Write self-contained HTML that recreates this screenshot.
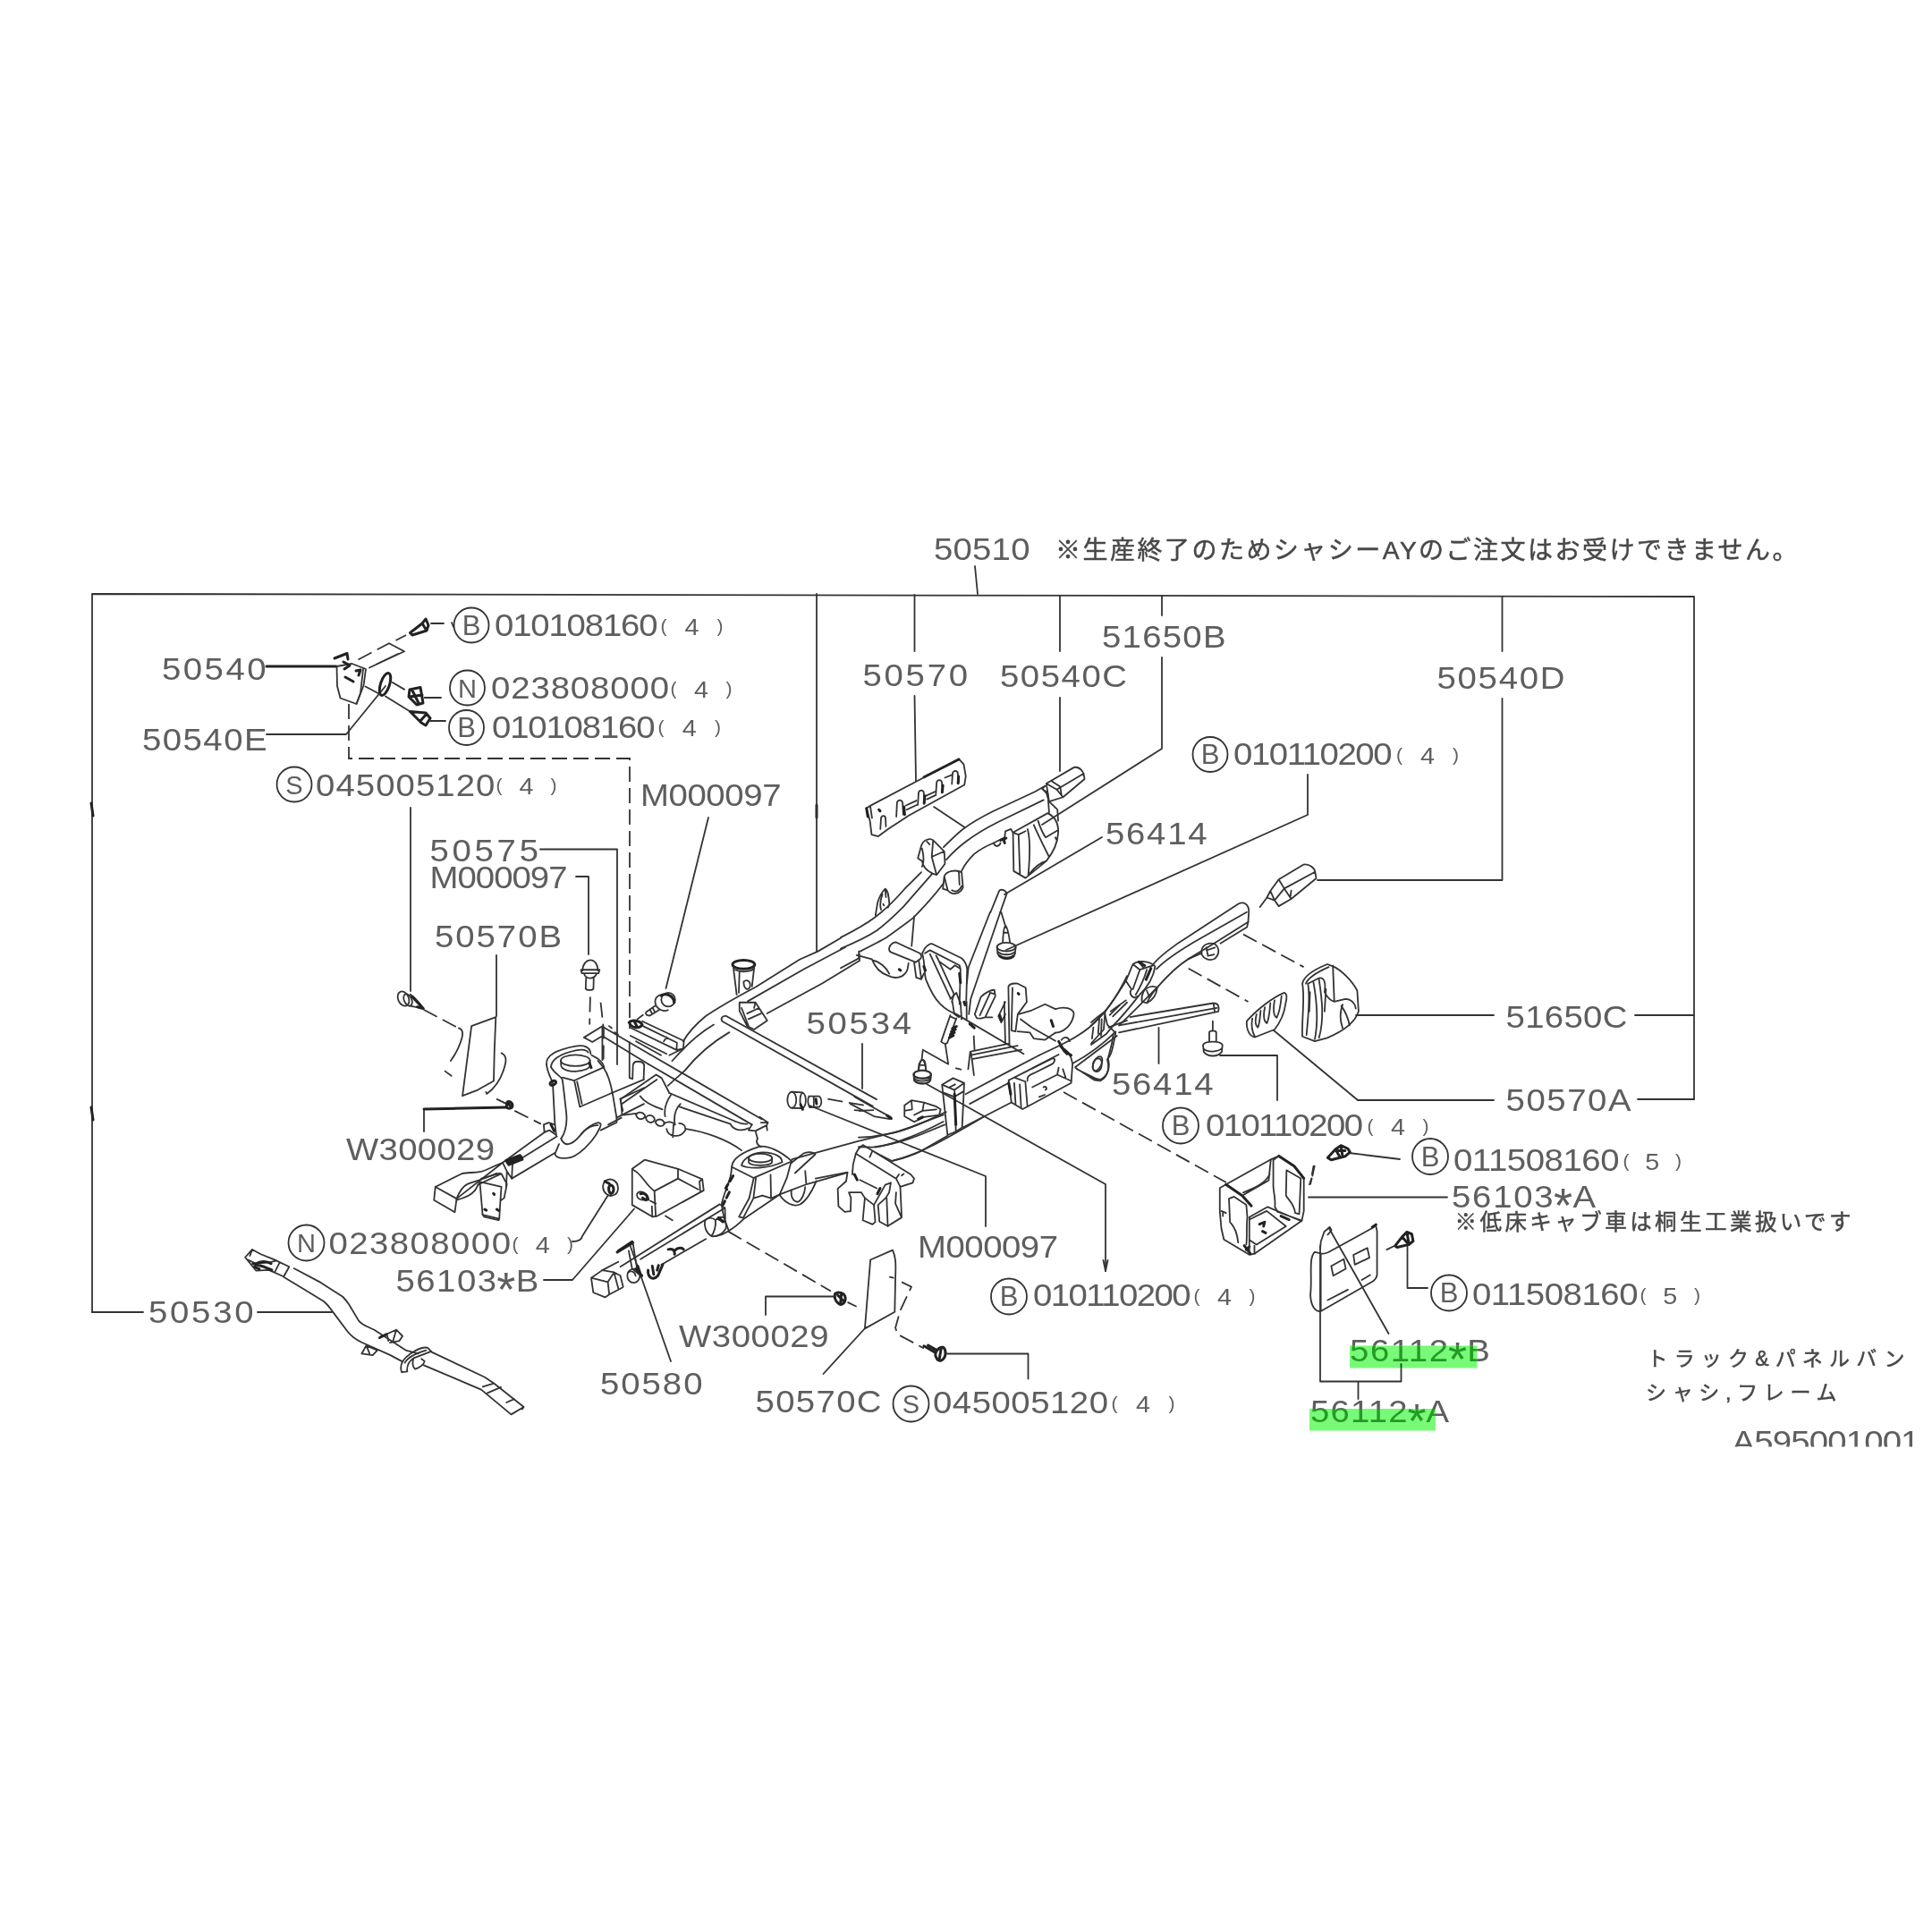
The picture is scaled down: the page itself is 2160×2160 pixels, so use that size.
<!DOCTYPE html>
<html lang="ja"><head><meta charset="utf-8"><title>50510 frame diagram</title>
<style>
html,body{margin:0;padding:0;background:#fff;}
body{width:2160px;height:2160px;overflow:hidden;}
svg{display:block;filter:blur(0.6px);}
.t{font-family:"Liberation Sans","Noto Sans CJK JP",sans-serif;fill:#5e5e5e;}
.j{font-family:"Liberation Sans","Noto Sans CJK JP",sans-serif;fill:#484848;stroke:#484848;stroke-width:0.5;}
.l{vector-effect:non-scaling-stroke;fill:none;stroke:#333;stroke-width:1.8;stroke-linecap:round;stroke-linejoin:round;}
.d{vector-effect:non-scaling-stroke;fill:none;stroke:#333;stroke-width:1.8;stroke-dasharray:17 7;}
.k{vector-effect:non-scaling-stroke;fill:none;stroke:#222;stroke-width:3;stroke-linecap:round;stroke-linejoin:round;}
.w{vector-effect:non-scaling-stroke;fill:#fff;stroke:#4d4d4d;stroke-width:2.2;stroke-linecap:round;stroke-linejoin:round;}
.g{fill:#78fa78;}
.gt .t{fill:#259a25;}
</style></head><body>
<svg width="2160" height="2160" viewBox="0 0 2160 2160">
<rect width="2160" height="2160" fill="#fff"/>
<path class="l" d="M103 1467 V664 L1894 667 V1229"/>
<path class="l" d="M103 1467 H160"/>
<path class="l" d="M288 1467 H371"/>
<path class="l" d="M1828 1135 H1894 M1831 1229 H1894"/>
<path class="k" d="M102 898 L104 912 M102 1238 L104 1252"/>
<path class="k" d="M913 900 L913 914"/>
<text class="t" transform="translate(181.0 759.7) scale(1.08 1)" font-size="35.5" textLength="107.9" lengthAdjust="spacing">50540</text>
<path class="k" d="M298 745 H376"/>
<text class="t" transform="translate(159.0 839.2) scale(1.08 1)" font-size="35.5" textLength="129.2" lengthAdjust="spacing">50540E</text>
<path class="l" d="M298 821 H387 L431 767"/>
<path class="d" d="M390 787 V848 H704 V1150"/>
<circle class="l" cx="329.0" cy="877.0" r="19.5"/>
<text class="t" x="329.0" y="887.5" font-size="29" text-anchor="middle">S</text>
<text class="t" transform="translate(353.0 889.7) scale(1.08 1)" font-size="35.5" textLength="185.6" lengthAdjust="spacing">045005120</text>
<text class="t" x="554.5" y="885.0" font-size="21">(</text>
<text class="t" x="588.5" y="888.5" font-size="25" text-anchor="middle" transform="translate(588.5 0) scale(1.15 1) translate(-588.5 0)">4</text>
<text class="t" x="622.5" y="885.0" font-size="21" text-anchor="end">)</text>
<circle class="l" cx="527.0" cy="699.0" r="19.5"/>
<text class="t" x="527.0" y="709.5" font-size="31" font-family="Liberation Serif, serif" text-anchor="middle">B</text>
<text class="t" transform="translate(553.0 711.2) scale(1.08 1)" font-size="35.5" textLength="169.0" lengthAdjust="spacing">010108160</text>
<text class="t" x="738.5" y="707.0" font-size="21">(</text>
<text class="t" x="773.5" y="710.5" font-size="25" text-anchor="middle" transform="translate(773.5 0) scale(1.15 1) translate(-773.5 0)">4</text>
<text class="t" x="808.5" y="707.0" font-size="21" text-anchor="end">)</text>
<circle class="l" cx="522.5" cy="769.0" r="19.5"/>
<text class="t" x="522.5" y="779.5" font-size="29" text-anchor="middle">N</text>
<text class="t" transform="translate(549.0 781.2) scale(1.08 1)" font-size="35.5" textLength="184.3" lengthAdjust="spacing">023808000</text>
<text class="t" x="749.5" y="777.0" font-size="21">(</text>
<text class="t" x="784.0" y="780.5" font-size="25" text-anchor="middle" transform="translate(784.0 0) scale(1.15 1) translate(-784.0 0)">4</text>
<text class="t" x="818.5" y="777.0" font-size="21" text-anchor="end">)</text>
<circle class="l" cx="521.5" cy="813.5" r="19.5"/>
<text class="t" x="521.5" y="824.0" font-size="31" font-family="Liberation Serif, serif" text-anchor="middle">B</text>
<text class="t" transform="translate(550.0 824.7) scale(1.08 1)" font-size="35.5" textLength="169.0" lengthAdjust="spacing">010108160</text>
<text class="t" x="735.5" y="820.0" font-size="21">(</text>
<text class="t" x="770.8" y="823.5" font-size="25" text-anchor="middle" transform="translate(770.8 0) scale(1.15 1) translate(-770.8 0)">4</text>
<text class="t" x="806.0" y="820.0" font-size="21" text-anchor="end">)</text>
<path class="l" d="M459 903 V1108"/>
<text class="t" transform="translate(480.5 962.7) scale(1.08 1)" font-size="35.5" textLength="112.5" lengthAdjust="spacing">50575</text>
<path class="l" d="M604 949.5 H690 V1190"/>
<text class="t" transform="translate(480.5 993.2) scale(1.08 1)" font-size="35.5" textLength="142.6" lengthAdjust="spacing">M000097</text>
<path class="l" d="M644 980 H658 V1067"/>
<text class="t" transform="translate(486.0 1059.2) scale(1.08 1)" font-size="35.5" textLength="131.5" lengthAdjust="spacing">50570B</text>
<path class="l" d="M555 1068 V1136"/>
<path class="l" d="M913 664 V1064"/>
<text class="t" transform="translate(1044.0 625.7) scale(1.08 1)" font-size="35.5" textLength="99.5" lengthAdjust="spacing">50510</text>
<path class="l" d="M1090 633 L1093 664"/>
<path class="l" d="M1022.5 665 V728 M1022.5 778 L1024 873"/>
<text class="t" transform="translate(964.5 767.2) scale(1.08 1)" font-size="35.5" textLength="108.8" lengthAdjust="spacing">50570</text>
<text class="t" transform="translate(716.0 901.2) scale(1.08 1)" font-size="35.5" textLength="145.8" lengthAdjust="spacing">M000097</text>
<path class="l" d="M792 914 L744.5 1105"/>
<text class="j" transform="translate(1180.0 624.7) scale(1.0 1)" font-size="28" textLength="829.5" lengthAdjust="spacing">※生産終了のためシャシーAYのご注文はお受けできません。</text>
<path class="l" d="M1185 666 V728 M1185 780 V862"/>
<text class="t" transform="translate(1118.0 768.2) scale(1.08 1)" font-size="35.5" textLength="131.5" lengthAdjust="spacing">50540C</text>
<path class="l" d="M1299 666 V688 M1299 735 V837 L1165 922"/>
<text class="t" transform="translate(1232.0 723.7) scale(1.08 1)" font-size="35.5" textLength="128.2" lengthAdjust="spacing">51650B</text>
<text class="t" transform="translate(1236.0 944.2) scale(1.08 1)" font-size="35.5" textLength="105.1" lengthAdjust="spacing">56414</text>
<path class="l" d="M1232 936 L1123 1000"/>
<circle class="l" cx="1353.0" cy="843.5" r="19.5"/>
<text class="t" x="1353.0" y="854.0" font-size="31" font-family="Liberation Serif, serif" text-anchor="middle">B</text>
<text class="t" transform="translate(1379.0 855.2) scale(1.08 1)" font-size="35.5" textLength="164.4" lengthAdjust="spacing">010110200</text>
<text class="t" x="1561.0" y="851.0" font-size="21">(</text>
<text class="t" x="1596.0" y="854.5" font-size="25" text-anchor="middle" transform="translate(1596.0 0) scale(1.15 1) translate(-1596.0 0)">4</text>
<text class="t" x="1631.0" y="851.0" font-size="21" text-anchor="end">)</text>
<path class="l" d="M1462 866 V911 L1125 1062"/>
<path class="l" d="M1679.5 667 V728 M1679.5 781 V984 H1473"/>
<text class="t" transform="translate(1606.5 769.7) scale(1.08 1)" font-size="35.5" textLength="132.4" lengthAdjust="spacing">50540D</text>
<text class="t" transform="translate(1683.5 1148.7) scale(1.08 1)" font-size="35.5" textLength="125.9" lengthAdjust="spacing">51650C</text>
<path class="l" d="M1516 1135 H1670"/>
<text class="t" transform="translate(1683.5 1242.2) scale(1.08 1)" font-size="35.5" textLength="129.6" lengthAdjust="spacing">50570A</text>
<path class="l" d="M1424 1152 L1518 1230 H1670"/>
<circle class="l" cx="1599.0" cy="1293.0" r="20"/>
<text class="t" x="1599.0" y="1303.5" font-size="31" font-family="Liberation Serif, serif" text-anchor="middle">B</text>
<text class="t" transform="translate(1625.0 1309.2) scale(1.08 1)" font-size="35.5" textLength="171.8" lengthAdjust="spacing">011508160</text>
<text class="t" x="1814.5" y="1305.0" font-size="21">(</text>
<text class="t" x="1847.2" y="1308.5" font-size="25" text-anchor="middle" transform="translate(1847.2 0) scale(1.15 1) translate(-1847.2 0)">5</text>
<text class="t" x="1880.0" y="1305.0" font-size="21" text-anchor="end">)</text>
<path class="l" d="M1508 1289 L1565 1296"/>
<text class="t" transform="translate(1623.0 1349.7) scale(1.08 1)" font-size="35.5" textLength="105.2" lengthAdjust="spacing">56103</text>
<text class="t" x="1747.4" y="1366.0" font-size="54" text-anchor="middle">*</text>
<text class="t" transform="translate(1758.6 1349.7) scale(1.08 1)" font-size="35.5" textLength="24.9" lengthAdjust="spacing">A</text>
<path class="l" d="M1463 1338.5 H1618"/>
<text class="j" transform="translate(1626.5 1375.2) scale(1.0 1)" font-size="24.5" textLength="443.0" lengthAdjust="spacing">※低床キャブ車は桐生工業扱いです</text>
<circle class="l" cx="1620.0" cy="1445.5" r="20"/>
<text class="t" x="1620.0" y="1456.0" font-size="31" font-family="Liberation Serif, serif" text-anchor="middle">B</text>
<text class="t" transform="translate(1646.0 1458.7) scale(1.08 1)" font-size="35.5" textLength="171.8" lengthAdjust="spacing">011508160</text>
<text class="t" x="1833.5" y="1454.5" font-size="21">(</text>
<text class="t" x="1867.2" y="1458.0" font-size="25" text-anchor="middle" transform="translate(1867.2 0) scale(1.15 1) translate(-1867.2 0)">5</text>
<text class="t" x="1901.0" y="1454.5" font-size="21" text-anchor="end">)</text>
<path class="l" d="M1573.5 1391 V1440 H1596"/>
<text class="t" transform="translate(1509.0 1521.7) scale(1.08 1)" font-size="35.5" textLength="101.9" lengthAdjust="spacing">56112</text>
<text class="t" x="1629.4" y="1538.0" font-size="54" text-anchor="middle">*</text>
<text class="t" transform="translate(1640.3 1521.7) scale(1.08 1)" font-size="35.5" textLength="24.3" lengthAdjust="spacing">B</text>
<text class="t" transform="translate(1465.0 1590.2) scale(1.08 1)" font-size="35.5" textLength="100.6" lengthAdjust="spacing">56112</text>
<text class="t" x="1583.9" y="1606.5" font-size="54" text-anchor="middle">*</text>
<text class="t" transform="translate(1594.6 1590.2) scale(1.08 1)" font-size="35.5" textLength="24.0" lengthAdjust="spacing">A</text>
<path class="l" d="M1476 1393 V1544.5 H1566.5 V1525 M1518.5 1544.5 V1564"/>
<path class="l" d="M1485.5 1372.5 L1552.5 1491"/>
<text class="j" transform="translate(1841.5 1526.7) scale(1.0 1)" font-size="23" textLength="288.0" lengthAdjust="spacing">トラック&amp;パネルバン</text>
<text class="j" transform="translate(1840.0 1565.2) scale(1.0 1)" font-size="23" textLength="213.5" lengthAdjust="spacing">シャシ,フレーム</text>
<g clip-path="url(#cb)">
<text class="t" transform="translate(1936.5 1624.2) scale(1.08 1)" font-size="35.5" textLength="194.4" lengthAdjust="spacing">A595001001</text>
</g>
<clipPath id="cb"><rect x="1900" y="1500" width="260" height="117.5"/></clipPath>
<text class="t" transform="translate(1243.0 1224.2) scale(1.08 1)" font-size="35.5" textLength="105.1" lengthAdjust="spacing">56414</text>
<path class="l" d="M1295.5 1149 V1189"/>
<circle class="l" cx="1320.0" cy="1258.5" r="20"/>
<text class="t" x="1320.0" y="1269.0" font-size="31" font-family="Liberation Serif, serif" text-anchor="middle">B</text>
<text class="t" transform="translate(1348.0 1270.2) scale(1.08 1)" font-size="35.5" textLength="163.0" lengthAdjust="spacing">010110200</text>
<text class="t" x="1528.5" y="1266.0" font-size="21">(</text>
<text class="t" x="1563.0" y="1269.5" font-size="25" text-anchor="middle" transform="translate(1563.0 0) scale(1.15 1) translate(-1563.0 0)">4</text>
<text class="t" x="1597.5" y="1266.0" font-size="21" text-anchor="end">)</text>
<path class="l" d="M1364 1180 H1428 V1230"/>
<circle class="l" cx="1128.0" cy="1449.5" r="20"/>
<text class="t" x="1128.0" y="1460.0" font-size="31" font-family="Liberation Serif, serif" text-anchor="middle">B</text>
<text class="t" transform="translate(1155.0 1460.2) scale(1.08 1)" font-size="35.5" textLength="163.4" lengthAdjust="spacing">010110200</text>
<text class="t" x="1334.5" y="1456.0" font-size="21">(</text>
<text class="t" x="1369.0" y="1459.5" font-size="25" text-anchor="middle" transform="translate(1369.0 0) scale(1.15 1) translate(-1369.0 0)">4</text>
<text class="t" x="1403.5" y="1456.0" font-size="21" text-anchor="end">)</text>
<path class="l" d="M1236 1421 V1324 L1036 1212"/>
<path class="l" d="M1236 1421 l-2.5 -12 M1236 1421 l2.5 -12"/>
<circle class="l" cx="1018.5" cy="1569.5" r="20"/>
<text class="t" x="1018.5" y="1580.0" font-size="29" text-anchor="middle">S</text>
<text class="t" transform="translate(1043.0 1580.2) scale(1.08 1)" font-size="35.5" textLength="181.5" lengthAdjust="spacing">045005120</text>
<text class="t" x="1242.5" y="1576.0" font-size="21">(</text>
<text class="t" x="1278.0" y="1579.5" font-size="25" text-anchor="middle" transform="translate(1278.0 0) scale(1.15 1) translate(-1278.0 0)">4</text>
<text class="t" x="1313.5" y="1576.0" font-size="21" text-anchor="end">)</text>
<path class="l" d="M1059 1513.5 H1149.5 V1541.5"/>
<text class="t" transform="translate(901.5 1155.7) scale(1.08 1)" font-size="35.5" textLength="108.8" lengthAdjust="spacing">50534</text>
<path class="l" d="M964 1167 V1217"/>
<text class="t" transform="translate(1026.0 1405.7) scale(1.08 1)" font-size="35.5" textLength="145.4" lengthAdjust="spacing">M000097</text>
<path class="l" d="M1102 1371 V1315 L905 1236"/>
<text class="t" transform="translate(759.0 1506.2) scale(1.08 1)" font-size="35.5" textLength="155.1" lengthAdjust="spacing">W300029</text>
<path class="l" d="M856 1470 V1449.5 H933"/>
<text class="t" transform="translate(671.0 1559.2) scale(1.08 1)" font-size="35.5" textLength="106.0" lengthAdjust="spacing">50580</text>
<path class="l" d="M750 1522 L704 1391"/>
<text class="t" transform="translate(844.5 1579.2) scale(1.08 1)" font-size="35.5" textLength="130.6" lengthAdjust="spacing">50570C</text>
<path class="l" d="M920.5 1536 L968 1484"/>
<text class="t" transform="translate(166.0 1479.2) scale(1.08 1)" font-size="35.5" textLength="108.8" lengthAdjust="spacing">50530</text>
<text class="t" transform="translate(387.0 1296.7) scale(1.08 1)" font-size="35.5" textLength="153.7" lengthAdjust="spacing">W300029</text>
<path class="l" d="M474 1265 V1240"/>
<path class="k" d="M474 1240 L566 1238"/>
<circle class="l" cx="342.5" cy="1389.5" r="20"/>
<text class="t" x="342.5" y="1400.0" font-size="29" text-anchor="middle">N</text>
<text class="t" transform="translate(367.5 1401.7) scale(1.08 1)" font-size="35.5" textLength="188.4" lengthAdjust="spacing">023808000</text>
<text class="t" x="572.5" y="1397.5" font-size="21">(</text>
<text class="t" x="606.8" y="1401.0" font-size="25" text-anchor="middle" transform="translate(606.8 0) scale(1.15 1) translate(-606.8 0)">4</text>
<text class="t" x="641.0" y="1397.5" font-size="21" text-anchor="end">)</text>
<path class="l" d="M640 1388 Q650 1388 651 1382 L680 1336"/>
<text class="t" transform="translate(442.5 1443.7) scale(1.08 1)" font-size="35.5" textLength="104.2" lengthAdjust="spacing">56103</text>
<text class="t" x="565.7" y="1460.0" font-size="54" text-anchor="middle">*</text>
<text class="t" transform="translate(576.8 1443.7) scale(1.08 1)" font-size="35.5" textLength="24.7" lengthAdjust="spacing">B</text>
<path class="l" d="M608 1431 H640 L709 1351.5"/>
<path class="d" d="M1189 1221 L1371 1322"/>
<rect class="g" x="1509" y="1504.5" width="142.5" height="25"/>
<rect class="g" x="1464" y="1575" width="141" height="24.5"/>
<clipPath id="cg"><rect x="1509" y="1504.5" width="142.5" height="25"/><rect x="1464" y="1575" width="141" height="24.5"/></clipPath>
<g class="gt" clip-path="url(#cg)">
<text class="t" transform="translate(1509.0 1521.7) scale(1.08 1)" font-size="35.5" textLength="101.9" lengthAdjust="spacing">56112</text>
<text class="t" x="1629.4" y="1538.0" font-size="54" text-anchor="middle">*</text>
<text class="t" transform="translate(1640.3 1521.7) scale(1.08 1)" font-size="35.5" textLength="24.3" lengthAdjust="spacing">B</text>
<text class="t" transform="translate(1465.0 1590.2) scale(1.08 1)" font-size="35.5" textLength="100.6" lengthAdjust="spacing">56112</text>
<text class="t" x="1583.9" y="1606.5" font-size="54" text-anchor="middle">*</text>
<text class="t" transform="translate(1594.6 1590.2) scale(1.08 1)" font-size="35.5" textLength="24.0" lengthAdjust="spacing">A</text>
<path class="l" d="M1566.5 1544.5 V1525"/>
</g>
<!-- 01_bracket50540.svg -->
<g id="p50540">
<path class="l" d="M376.5 745 L377 767 L380.5 780.5 L398.5 787 L406.5 766.5 L409 748 L393.5 742 Z"/>
<path class="l" d="M398.5 787 L403 775 L406 748"/>
<path class="k" d="M374 736 L388 730.5 L389 737 M384 740 L391 744 L385 748 M386 757 L395 762"/>
<path class="k" d="M398 750 L403 749 L401 755" stroke-width="2"/>
<path class="d" d="M400.5 737.5 L435 719.2" stroke-dasharray="12 5"/>
<path class="l" d="M435 719.2 L452 728.3 L413 746.5 M445 731 L421 742.5"/>
<path class="d" d="M442.5 716 L454 710" stroke-dasharray="12 5"/>
<path class="k" d="M458.5 707.5 L472 697 L476 692 L479 699 L477 705 L461 710 Z M472 697 L477 705" stroke-width="2.4"/>
<path class="l" d="M482 697 H496 M505 696 L507 701"/>
<ellipse class="k" cx="430.5" cy="765" rx="5" ry="13" transform="rotate(18 430.5 765)" stroke-width="3.2"/>
<path class="l" d="M408.5 767.5 L424.5 776 M431 778.5 L458.5 795.5"/>
<path class="d" d="M438 762.5 L457.5 774" stroke-dasharray="9 4"/>
<path class="k" d="M458 771 L470 768.5 L473 786 L466 788 L457 779 Z M461 772 L468 786 M458 779 L472 777" stroke-width="2.2"/>
<path class="l" d="M474.5 780 H493"/>
<path class="k" d="M458.5 795.5 L476 797 L481 803 L476 811 L471 808 Z M470 806 L477 798" stroke-width="2.2"/>
<path class="l" d="M481 806 H498"/>
</g>

<!-- 02_tileA.svg -->
<g transform="translate(420,1040) scale(0.15528)">
<!-- screw top-left -->
<ellipse class="l" cx="200" cy="493" rx="38" ry="55" transform="rotate(-25 200 493)"/>
<ellipse class="l" cx="232" cy="502" rx="27" ry="45" transform="rotate(-25 232 502)"/>
<path class="l" d="M250 462 C290 490 320 530 343 563 L245 545"/>
<path class="k" d="M262 478 L343 563 L300 552" stroke-width="2.4"/>
<path class="d" d="M345 572 L610 712" stroke-dasharray="14 6"/>
<path class="l" d="M598 705 C630 715 630 745 620 780 C600 850 570 900 540 940 M500 1015 L545 1048"/>
<!-- panel 50570B -->
<path class="l" d="M690 690 L865 625 L855 870 L850 1085 L735 1150 L625 1192 Z"/>
<path class="l" d="M905 885 C950 905 940 950 920 1010 C900 1070 870 1130 800 1178 L795 1165"/>
<path class="d" d="M870 1215 L945 1252 M1000 1300 L1190 1395" stroke-dasharray="12 6"/>
<path class="k" d="M945 1240 C960 1225 985 1240 985 1262 C985 1285 955 1290 942 1272 Z M955 1250 L975 1270" stroke-width="2.2"/>
<!-- bolt M000097 -->
<path class="l" d="M1490 290 C1490 240 1520 215 1545 215 C1580 215 1600 250 1600 290 M1478 285 L1612 285 L1605 310 L1485 310 Z M1500 310 C1505 335 1520 345 1545 345 C1575 345 1585 330 1592 310 M1515 345 L1512 420 C1520 435 1560 435 1568 420 L1570 345"/>
<path class="d" d="M1545 480 L1540 680 M1620 520 L1642 720 L1640 930" stroke-dasharray="13 6"/>
<!-- cross bar left end -->
<path class="l" d="M1500 772 L1630 692 L1974 894 M1500 772 L1560 805 L1632 762 L1964 964 M1632 692 L1632 762 M1632 762 L1632 935"/>
<path class="l" d="M1680 690 L1700 705 M1720 735 L1745 750" />
<!-- strut tower -->
<path class="l" d="M1230 965 C1225 900 1300 860 1440 835 C1500 825 1545 840 1548 890"/>
<path class="l" d="M1262 985 C1265 930 1330 890 1440 865 C1490 855 1520 860 1530 880"/>
<ellipse class="l" cx="1438" cy="938" rx="105" ry="40"/>
<path class="l" d="M1333 938 L1335 975 C1340 1005 1400 1020 1450 1015 C1500 1012 1540 995 1545 975 L1543 938"/>
<path class="k" d="M1540 960 L1552 990" stroke-width="4"/>
<path class="l" d="M1230 965 C1235 1020 1260 1060 1275 1100 L1290 1390 L1300 1475"/>
<ellipse class="k" cx="1277" cy="1100" rx="22" ry="14" transform="rotate(-30 1277 1100)" stroke-width="2.2"/>
<path class="l" d="M1262 985 C1290 1040 1340 1050 1345 1080 C1355 1150 1365 1250 1372 1310 C1380 1380 1370 1450 1335 1500"/>
<path class="l" d="M1345 1060 L1430 1082 L1640 988 L1600 940 M1430 1082 L1470 1272 L1700 1172 M1450 1090 L1485 1250"/>
<path class="l" d="M1640 988 C1690 1060 1700 1150 1710 1200 L1735 1350"/>
<path class="l" d="M1555 900 L1600 925 C1620 940 1640 960 1645 990"/>
<!-- lower arch -->
<path class="l" d="M1335 1500 C1360 1570 1420 1540 1470 1480 C1510 1430 1560 1395 1600 1385 C1625 1385 1625 1405 1610 1430 C1570 1520 1450 1640 1380 1640 C1340 1645 1300 1640 1290 1610"/>
<path class="l" d="M1480 1465 C1520 1420 1570 1400 1600 1405"/>
<!-- small block and rail -->
<path class="l" d="M1210 1400 L1215 1455 L1250 1440 M1210 1400 L1245 1385 L1290 1400 M1250 1440 L1300 1475"/>
<path class="k" d="M1262 1400 L1285 1445" stroke-width="3.5"/>
<path class="l" d="M1215 1455 L915 1673 M1305 1485 L985 1683 M1320 1540 L1295 1600 L980 1788 M1290 1610 L1295 1600"/>
<!-- right of tower: rail going up right -->
<path class="l" d="M1735 1350 L1932 1250 M1700 1172 L1932 1075 M1760 1215 L1932 1135 M1760 1215 L1780 1300 M1620 1440 L1735 1385 L1735 1350"/>
</g>

<!-- 03_tileB.svg -->
<g transform="translate(420,1240) scale(0.15528)">
<!-- horn of left rail -->
<path class="l" d="M915 385 C850 410 800 440 760 450 C700 460 660 455 620 465 L430 560 L420 655 L570 742 L583 645 Z"/>
<path class="l" d="M430 560 L583 645 C600 600 620 560 660 540 C720 515 800 500 870 462"/>
<path class="l" d="M583 655 C640 640 690 620 715 585"/>
<path class="l" d="M915 385 L945 448 L940 560 M985 398 L980 500 L945 448"/>
<!-- bracket -->
<path class="l" d="M715 585 L750 525 L770 760 L890 790 L898 660 M735 545 L905 465 L945 540 L925 640 L898 660 L905 560 L760 525 M760 500 L895 462"/>
<path class="l" d="M770 760 L780 775 L885 800 L890 790"/>
<path class="k" d="M848 608 l6 6 M785 722 l12 6 M872 722 l12 8" stroke-width="3"/>
<path class="k" d="M938 372 L1040 333 M948 386 L1050 347 M958 400 L1056 362 M945 379 L1045 340 M953 393 L1053 355" stroke-width="2"/>
<!-- N nut -->
<path class="l" d="M1655 515 C1700 490 1745 520 1745 570 C1745 620 1690 640 1660 610 C1630 585 1630 540 1655 515 Z"/>
<path class="k" d="M1690 545 C1720 550 1720 600 1695 610 C1675 600 1672 560 1690 545 M1650 520 L1680 535" stroke-width="2"/>
<!-- rail front-right end (right rail) -->
</g>

<!-- 04_tileC.svg -->
<g transform="translate(640,1240) scale(0.15528)">
<!-- N leader handled in labels. mount 56103*B -->
<path class="l" d="M430 430 L520 365 L760 430 L935 505 L945 585 L610 770 L575 775 L430 690 Z"/>
<path class="l" d="M438 438 C500 465 520 540 590 590 L600 772 M590 590 L760 500 L760 432 M760 500 L905 578 M935 505 L915 520 L920 590"/>
<path class="l" d="M560 660 L600 680 M575 775 L572 700"/>
<ellipse class="l" cx="500" cy="625" rx="38" ry="28" transform="rotate(25 500 625)"/>
<path class="k" d="M490 610 C520 600 545 625 545 650 M505 640 L530 655" stroke-width="2"/>
<path class="l" d="M670 770 L720 800"/>
<!-- right rail front end -->
<path class="l" d="M135 1215 L215 1160 L300 1175 L255 1245 Z M135 1215 L150 1320 L235 1355 L265 1335 L255 1245 M265 1335 L360 1285 M300 1175 L345 1200 M300 1180 L330 1290 M345 1200 L365 1280"/>
<ellipse class="l" cx="440" cy="1200" rx="45" ry="50"/>
<path class="l" d="M400 1175 C420 1160 450 1170 455 1200"/>
<path class="l" d="M215 1160 L330 1100 M345 1135 L1060 685 M490 1080 L1098 712 M640 1120 L960 935 M1060 685 L1098 712 L1100 790"/>
<!-- 50580 bracket -->
<path class="k" d="M322 1030 L435 962 M330 1020 L430 955" stroke-width="2"/>
<path class="l" d="M435 962 L470 1180 M405 1020 L430 1150 L480 1190"/>
<path class="k" d="M470 1130 L490 1190 M455 1150 L500 1200" stroke-width="3"/>
<path class="k" d="M545 1160 C540 1210 580 1240 615 1200 L650 1120 M575 1130 L585 1190 M620 1125 L610 1160" stroke-width="2.2"/>
<path class="k" d="M690 1010 C720 1000 740 1020 735 1045 M740 1015 C760 995 790 995 800 1010" stroke-width="2"/>
<!-- knob -->
<path class="l" d="M955 800 C945 840 960 890 1000 915 C1040 920 1080 900 1105 860 C1110 830 1100 800 1090 780 M955 800 C980 780 1010 780 1030 800 C1035 840 1020 890 1000 915 M1030 800 C1050 780 1075 775 1090 780"/>
<path class="k" d="M1050 790 L1090 810" stroke-width="3"/>
<!-- dashed to W300029 -->
</g>

<!-- 05_tileD.svg -->
<g transform="translate(800,1240) scale(0.15528)">
<!-- rail to the right -->
<path class="l" d="M550 362 L1020 232 L1240 180 C1350 160 1450 120 1660 20 M720 500 L950 455"/>
<path class="l" d="M1150 275 C1300 250 1450 190 1640 90 M1280 370 C1450 330 1600 250 1932 55"/>
<!-- hook bracket -->
<path class="l" d="M1030 285 L1060 258 L1130 300 L1405 470 L1430 500 L1420 530 L1330 560 L1300 500 L1010 320 Z M1320 470 L1300 500 M1130 300 L1110 345 M1340 478 l15 -12"/>
<path class="l" d="M1010 320 L990 400 L985 470 M950 458 L940 520 L880 572 L885 700 L930 740 L972 735 L975 640 L960 600 L1050 600 L1075 640 L1060 800 L1130 830 L1150 812 L1140 690 L1222 545 L1262 530 L1250 600 L1225 640 L1170 690 L1180 810 L1240 842 L1340 780 L1330 560"/>
<path class="l" d="M1075 640 L1140 690 M1240 842 L1232 640 M1300 600 L1295 680 L1335 770 M1040 510 L1160 570"/>
<path class="k" d="M1000 470 L1020 510 M1185 570 L1165 610" stroke-width="4"/>
<!-- dashed and nut -->
<path class="d" d="M90 880 L830 1310 M950 1390 L1015 1422" stroke-dasharray="13 6"/>
<path class="k" d="M860 1330 C880 1310 930 1320 935 1360 C935 1400 900 1420 880 1395 C860 1375 855 1350 860 1330 M880 1340 L915 1375 M905 1335 L900 1395" stroke-width="2.2"/>
<!-- panel 50570C -->
<path class="l" d="M1115 1085 L1275 1015 C1295 1060 1300 1100 1295 1210 L1290 1460 L1075 1580 Z M1255 1208 L1280 1215"/>
<path class="d" d="M1340 1245 L1410 1280 L1330 1450 L1295 1575 L1312 1622 L1500 1722" stroke-dasharray="12 6"/>
<!-- screw -->
<path class="k" d="M1500 1705 L1585 1755 M1530 1700 L1590 1735 M1590 1790 C1570 1760 1600 1710 1640 1715 C1665 1740 1660 1790 1625 1810 C1610 1815 1595 1805 1590 1790 M1625 1720 L1610 1805" stroke-width="2.2"/>
</g>

<!-- 06_tileE.svg -->
<g transform="translate(680,1040) scale(0.15528)">
<!-- cross bar 50575 continuing -->
<path class="l" d="M300 894 L1105 1360 M290 964 L1035 1400"/>
<path class="l" d="M1035 1400 L1010 1440 L1060 1445 L1140 1405 L1150 1385 L1100 1385 M1090 1345 L1150 1385 M1060 1445 L1075 1500 M1140 1405 L1145 1440"/>
<!-- bolt M000097 (center) -->
<circle class="l" cx="432" cy="500" r="50"/>
<path class="l" d="M395 465 C360 460 330 490 340 530 C350 570 400 590 430 575 M345 540 L280 585 M365 575 L300 615 M280 585 C265 590 265 615 300 615 M300 570 l15 30 M320 558 l15 30"/>
<path class="k" d="M380 470 C420 450 470 470 475 520" stroke-width="2.6"/>
<path class="l" d="M250 610 L210 640"/>
<path class="k" d="M150 665 C170 640 230 650 245 680 C230 710 170 710 150 665 M190 660 L210 700" stroke-width="2.2"/>
<!-- plate -->
<path class="l" d="M245 655 L545 797 L540 852 L492 862 L160 702 M160 760 L420 890 M200 800 L380 900 M492 862 L495 810 L250 690 M540 852 L440 900 M420 770 L400 800"/>
<!-- left rail -->
<path class="l" d="M540 800 C580 730 640 670 700 620 C780 565 900 495 1062 409 L1378 211 L1510 152 L1674 56"/>
<path class="l" d="M460 942 C540 850 640 750 760 680 M550 1012 C640 900 760 800 872 735 M430 1120 C470 1080 520 1040 550 1012"/>
<path class="l" d="M1005 511 L1415 277 L1707 122 M1144 599 L1546 380 L1810 219 L1808 170"/>
<!-- cylinder on rail -->
<ellipse class="k" cx="975" cy="247" rx="80" ry="32" stroke-width="2.6"/>
<path class="l" d="M900 260 L925 465 M1052 260 L1035 405 M915 285 C950 305 1020 300 1045 280 M945 300 L940 450 M975 370 C1000 350 1030 370 1020 410 C1005 440 975 420 975 370"/>
<!-- clip bracket -->
<path class="l" d="M945 520 L1060 520 L1145 650 L1050 715 L1000 690 L945 580 Z M960 560 L1010 690 M1000 600 L1085 560 M1010 640 L1100 600 M1060 520 L1050 560"/>
<!-- cross bar 50534 -->
<path class="l" d="M850 618 L1932 1218 M820 655 L1905 1268 M850 618 C820 615 808 635 820 655"/>
<!-- cylinder bolt -->
<ellipse class="l" cx="1322" cy="1222" rx="32" ry="58"/>
<path class="l" d="M1322 1164 L1400 1168 M1322 1280 L1400 1282 M1400 1168 C1430 1190 1430 1260 1400 1282 C1375 1260 1375 1190 1400 1168 M1445 1195 L1520 1195 C1540 1215 1540 1255 1520 1272 L1450 1275 C1435 1250 1435 1215 1445 1195 M1480 1200 L1480 1270"/>
<path class="k" d="M1385 1255 L1400 1290 M1495 1215 L1500 1250" stroke-width="3"/>
<path class="d" d="M1580 1215 L1850 1262 M1770 1295 L1840 1300" stroke-dasharray="14 7"/>
<!-- left rail segment from tower + arm -->
<path class="l" d="M90 1215 L345 1040 L385 1065 L440 1172 M100 1250 L350 1075 M90 1215 L100 1330 M0 1400 L95 1350 M175 1070 L178 975 C180 950 195 945 212 945 C240 945 258 955 259 975 L255 1070 M153 806 L153 1063 L175 1070"/>
<path class="l" d="M440 1172 L905 1372 C930 1380 960 1400 1000 1395 M510 1270 L880 1395 C900 1440 960 1450 1010 1425 M230 1195 C260 1240 330 1270 390 1290"/>
<path class="l" d="M455 1180 C420 1230 400 1290 410 1340 M520 1250 C480 1290 470 1340 480 1400 M560 1430 C700 1450 860 1510 960 1585"/>
<path class="l" d="M200 1330 C215 1300 260 1310 265 1340 C250 1370 210 1365 200 1330 M270 1350 C290 1320 330 1330 335 1365 C320 1395 280 1390 270 1350 M340 1380 C360 1350 400 1360 405 1395 C390 1420 350 1415 340 1380 M400 1395 C420 1370 470 1380 480 1400 M420 1430 C430 1490 520 1500 555 1440 C560 1410 540 1390 510 1390 M470 1400 L465 1490"/>
<path class="l" d="M110 1330 L200 1320 M1075 1500 C1060 1530 1080 1550 1100 1560"/>
</g>

<!-- 07_tileF.svg -->
<g transform="translate(960,1040) scale(0.15528)">
<!-- 50534 bar end -->
<path class="l" d="M-30 1200 L120 1285 L230 1345 M-60 1250 L110 1340 L225 1360"/>
<path class="k" d="M205 1335 L235 1355" stroke-width="3.5"/>
<path class="d" d="M0 1300 L130 1295" stroke-dasharray="10 6"/>
<!-- small clip on rail -->
<path class="l" d="M330 1260 L380 1225 L470 1240 L560 1270 L590 1290 L580 1330 L470 1345 L400 1380 L330 1340 Z M380 1225 L385 1290 L330 1300 M470 1240 L460 1300 L400 1330 M460 1300 L560 1290"/>
<path class="k" d="M430 1360 L460 1345" stroke-width="3"/>
<!-- bolt B (lower-left of bracket) -->
<path class="l" d="M440 960 C445 925 475 925 480 960 L485 1010 M400 1030 C420 1000 500 1000 520 1035 L515 1080 C490 1110 430 1110 400 1080 Z M430 1010 L435 960 M400 1055 C430 1075 490 1075 518 1058"/>
<!-- post -->
<path class="l" d="M600 1112 L680 1065 L760 1100 L690 1150 Z M600 1112 L640 1475 M690 1150 L700 1450 M760 1100 L745 1420 L700 1450 M640 1475 L700 1450 M655 1130 l40 -20 M612 1170 L690 1200 L755 1160"/>
<path class="k" d="M690 1180 L700 1400" stroke-width="2.6"/>
<!-- right rail left of post -->
<path class="l" d="M0 1492 C150 1490 300 1450 420 1400 L610 1330 M100 1562 C250 1545 350 1510 450 1470 L620 1400 M240 1662 C330 1640 400 1615 450 1590 L640 1480 M0 1560 L100 1562 M120 1600 L240 1662"/>
<!-- right of post -->
<path class="l" d="M770 1180 L1090 1010 L1300 900 M800 1250 L1080 1100 M750 1420 L1100 1240"/>
<!-- box on rail -->
<path class="l" d="M1080 1080 L1100 1240 L1180 1288 L1215 1270 L1530 1100 L1540 960 C1530 900 1500 860 1470 850 M1080 1080 L1200 1020 L1440 895 M1120 1100 L1130 1250 M1160 1110 L1170 1280 M1200 1090 L1215 1270 M1200 1090 L1120 1060"/>
<path class="l" d="M1215 1085 C1210 1060 1230 1040 1260 1030 L1390 965 C1410 955 1420 930 1400 920 L1250 995 M1250 1130 L1430 1040 L1440 990 M1430 1040 L1530 1085 M1470 1000 L1490 1060 M1300 1200 l40 -15 M1330 1130 C1350 1120 1360 1140 1345 1150"/>
<path class="k" d="M1440 800 L1480 870 L1530 900 M1450 830 L1500 890 M1080 1100 L1095 1180" stroke-width="3"/>
<!-- rail continuing up-right -->
<path class="l" d="M1300 900 C1450 830 1560 780 1660 700 C1780 600 1860 480 1932 330 M1540 960 C1650 900 1760 820 1850 730 M1560 985 L1860 760 M1460 790 C1480 760 1510 770 1520 800"/>
<!-- plate with hole -->
<path class="l" d="M1670 690 L1770 590 L1790 680 L1850 740 C1830 850 1820 900 1790 930 C1810 1000 1790 1060 1740 1085 L1700 1080 L1560 990 M1690 700 L1680 780 M1750 640 L1745 760 M1570 1000 L1720 1075"/>
<ellipse class="l" cx="1720" cy="960" rx="28" ry="55" transform="rotate(25 1720 960)"/>
<path class="l" d="M1800 700 L1932 650 M1830 620 L1932 520"/>
<path class="l" d="M1417 568 C1480 548 1540 560 1550 600 C1540 680 1480 735 1417 738"/>
</g>

<!-- 08_tileG.svg -->
<g transform="translate(1220,960) scale(0.15528)">
<!-- right rail rear end -->
<path class="l" d="M440 770 C470 720 600 620 700 560 L1060 325 C1100 305 1135 330 1135 380 L1130 455 L900 600 L700 722 C640 760 560 830 480 922"/>
<path class="l" d="M470 795 C520 740 640 660 740 600 L1120 385 M1130 455 L1122 492 L930 610"/>
<!-- nut on rail -->
<path class="l" d="M795 660 C800 620 850 600 890 615 C925 640 925 690 890 720 C850 740 810 720 795 690 Z M830 640 L840 700 M830 660 L890 640 M840 700 L885 690"/>
<path class="l" d="M700 722 L795 680"/>
<!-- collar bracket -->
<path class="l" d="M250 880 L300 760 C340 730 420 735 460 775 C450 850 400 930 340 990 L310 1000 C280 990 275 960 290 940 L250 880 M300 760 L350 800 L440 770 M350 800 L300 940 M340 740 L380 790 M400 800 C380 870 350 930 320 980"/>
<path class="k" d="M345 745 L385 770 M430 790 L395 870" stroke-width="2.6"/>
<path class="l" d="M375 960 C400 920 450 910 475 930 C470 980 440 1020 400 1040 L365 1030 C360 1000 365 980 375 960 M400 950 L420 1000 M400 1040 C420 1000 445 960 475 930"/>
<!-- rail lower section to the left -->
<path class="l" d="M250 880 C200 960 150 1040 100 1100 M340 990 C300 1040 240 1120 160 1200 M140 1100 L250 1020 M480 922 C400 1000 330 1080 200 1200"/>
<!-- plates at left edge -->
<path class="l" d="M100 1100 L90 1230 L0 1330 M60 1130 L50 1260 M0 1180 C30 1150 60 1130 100 1100 M160 1200 L110 1260 L0 1340"/>
<path class="l" d="M160 1260 C150 1350 130 1400 120 1440 C140 1500 120 1560 70 1590 L0 1580 M40 1440 C70 1430 85 1460 70 1510 C50 1545 15 1540 10 1500 C10 1470 20 1450 40 1440"/>
<!-- dashed -->
<path class="d" d="M1095 545 L1530 780 M700 790 L1130 1030 M130 1130 L240 1020" stroke-dasharray="14 7"/>
<!-- 50540D part -->
<path class="l" d="M1290 232 L1350 150 L1530 42 C1570 35 1610 70 1612 95 L1620 142 L1440 290 L1350 342 L1320 300 L1290 232 M1350 150 L1390 215 L1320 300 M1390 215 L1440 290 M1390 215 L1612 95 M1290 232 L1265 280 L1215 348 M1265 280 L1320 300 M1440 230 L1435 270"/>
<!-- 51650C part -->
<path class="l" d="M1520 900 C1530 850 1600 800 1700 760 L1740 775 C1800 800 1880 880 1915 950 L1925 1100 C1900 1180 1820 1240 1700 1290 L1610 1315 L1520 1280 C1515 1150 1540 1000 1520 900 Z"/>
<path class="l" d="M1545 900 C1560 860 1620 820 1710 780 M1560 900 L1640 860 C1680 850 1690 900 1680 960 C1700 1000 1720 1020 1750 1030 L1830 1010 C1870 1010 1900 1040 1905 1080 M1560 900 C1580 1000 1560 1150 1550 1270 M1600 890 C1620 1000 1640 1150 1610 1300 M1640 870 C1660 1000 1680 1150 1640 1290 M1575 960 L1570 1100 M1690 940 L1680 1100 M1800 1060 C1830 1100 1850 1150 1860 1200 M1810 1050 C1790 1100 1790 1160 1810 1220 M1750 1030 L1740 770"/>
<!-- vent 50570A -->
<path class="l" d="M1120 1170 C1180 1100 1300 1000 1390 965 C1410 970 1410 1000 1400 1040 C1390 1120 1360 1180 1320 1230 L1180 1285 C1140 1280 1115 1230 1120 1170 Z M1180 1285 C1160 1250 1150 1200 1160 1150"/>
<path class="l" d="M1190 1120 C1180 1160 1180 1200 1200 1215 C1215 1180 1215 1130 1220 1095 M1250 1070 C1240 1120 1240 1170 1265 1185 C1285 1140 1285 1080 1290 1040 M1320 1020 C1310 1080 1310 1130 1335 1145 C1360 1100 1365 1040 1370 990"/>
<!-- rod 56414 lower -->
<path class="l" d="M280 1140 L880 1040 C910 1040 925 1060 915 1100 L200 1252 M200 1200 L905 1075 M880 1040 L890 1105"/>
<!-- bolt -->
<path class="l" d="M875 1170 L875 1240 M850 1250 C855 1235 895 1235 900 1250 L900 1320 M850 1250 L850 1320 M805 1340 C820 1310 930 1310 945 1340 L940 1390 C910 1430 840 1430 810 1390 Z M810 1370 C840 1395 910 1395 942 1365"/>
</g>

<!-- 09_tileH.svg -->
<g transform="translate(940,840) scale(0.15528)">
<!-- 50570 plate -->
<path class="l" d="M185 410 L212 392 L850 55 L885 92 L900 180 L890 242 L490 462 L340 560 L270 612 L222 600 L210 500 Z M212 392 L225 480"/>
<path class="k" d="M185 410 L195 470 M600 185 L850 58" stroke-width="2.6"/>
<path class="l" d="M285 560 L290 480 C295 460 320 460 322 480 L325 540 M400 470 L405 370 C410 345 440 345 445 370 L450 455 M555 385 L560 300 C565 275 595 275 598 300 L602 370 M685 305 L690 225 C695 200 725 200 728 225 L732 290 M800 235 L805 160 C810 135 840 135 843 160 L848 225"/>
<path class="k" d="M455 400 L460 455 M605 320 L600 375 M735 245 L730 295 M848 180 L845 230 M275 420 l8 10" stroke-width="2.4"/>
<path class="l" d="M470 390 L545 355 M475 420 L550 385 M615 320 L680 290 M620 345 L685 315 M750 190 L800 170"/>
<path class="l" d="M670 400 L890 545" stroke-width="1.4"/>
<!-- left rail upper section -->
<path class="l" d="M0 1340 C100 1290 180 1245 240 1200 C320 1140 400 1060 460 990 L580 870 M740 690 C800 630 840 590 880 560 C960 500 1040 460 1100 430 L1400 290 L1470 250"/>
<path class="l" d="M0 1420 C120 1370 200 1330 260 1290 C340 1230 400 1170 450 1120 L660 880 M760 780 C820 710 860 680 900 650 C980 590 1060 545 1130 510 L1460 350"/>
<path class="l" d="M140 1440 C220 1400 280 1370 330 1340 C400 1290 470 1240 520 1200 C600 1120 680 1030 740 950 M870 860 C900 800 930 770 960 740 C1010 700 1050 680 1100 660 L1180 620 M0 1560 L130 1490 L130 1440 L140 1440"/>
<!-- collar -->
<path class="l" d="M580 680 C590 640 640 620 665 640 L745 720 L750 810 L690 890 L660 880 C620 860 590 830 585 790 L555 770 L580 680 M665 640 L655 760 L690 890 M655 760 L745 720 M585 700 C600 760 600 800 585 830 M620 650 l20 20"/>
<!-- cylinder -->
<path class="l" d="M745 900 C760 860 830 850 870 870 L880 980 C860 1030 800 1040 770 1000 L745 900 M745 900 L735 990 L770 1000 M800 1000 C830 1020 860 1000 870 970 M850 870 L855 960"/>
<!-- small hook -->
<path class="l" d="M250 1180 L265 1090 C280 1040 300 1010 320 990 C340 1000 345 1040 350 1100 L340 1125 M300 1030 C285 1070 280 1110 290 1140 M320 990 L325 1050 M305 1100 l6 10"/>
<!-- 50540C end part -->
<path class="l" d="M1480 232 L1680 115 C1720 110 1750 140 1755 200 L1600 330 L1500 362 L1480 232 M1480 232 L1555 275 L1600 330 M1555 275 L1750 160 M1500 362 L1480 300 L1450 270 L1470 250 M1520 215 L1580 255 L1590 320 M1450 270 L1490 300"/>
<!-- 51650B shield -->
<path class="l" d="M1240 585 L1490 445 C1540 470 1570 520 1565 590 C1560 680 1520 740 1480 790 L1330 912 L1245 862 Z M1240 585 L1280 600 L1290 885 M1280 600 L1330 575 M1345 560 C1370 650 1360 780 1350 890 M1390 530 C1420 600 1470 700 1500 760 M1420 500 C1440 560 1460 600 1475 620 L1560 570 M1480 790 C1440 800 1400 830 1360 880 M1545 620 l10 20"/>
<path class="l" d="M1490 300 L1500 440 M1180 620 L1185 575 L1225 560 L1240 585 M1500 362 L1560 420 L1565 500"/>
<path class="k" d="M1150 640 L1190 625 M1175 640 L1180 660" stroke-width="3"/>
<path class="l" d="M1100 660 C1110 690 1140 690 1150 660"/>
<path class="l" d="M1140 1005 C1150 990 1185 995 1195 1025 L1148 1159 M1140 1005 L1078 1159"/>
</g>

<!-- 10_tileI.svg -->
<g transform="translate(1420,1240) scale(0.15528)">
<!-- bolt top -->
<path class="k" d="M415 350 L470 290 L510 262 L560 285 L575 310 L540 340 L440 365 Z M470 290 L500 340 M510 262 L520 330 M490 300 L540 300" stroke-width="2.2"/>
<path class="l" d="M320 410 L305 480 M300 500 L290 540"/>
<!-- plate 56112 -->
<path class="l" d="M320 1030 C275 1080 305 1200 290 1340 C295 1420 325 1460 365 1455 L740 1240 C765 1220 772 1200 770 1180 L770 880 L760 832 L745 852 L420 1030 C400 1040 380 1042 365 1040 C345 1035 330 1030 320 1030 M365 1040 L365 1455"/>
<path class="l" d="M365 955 L390 882 L430 850 L442 872 L415 905 M365 960 L360 1005"/>
<path class="l" d="M440 1130 L530 1080 L545 1150 L455 1200 Z M600 1050 L700 1000 L715 1070 L610 1120 Z M415 1375 L560 1300 M660 1230 L720 1195"/>
<path class="k" d="M735 850 L762 832" stroke-width="3"/>
<!-- bolt right -->
<path class="k" d="M900 985 L950 920 L985 885 L1020 900 L1030 950 L1000 975 L915 995 Z M950 920 L985 960 M985 885 L1000 975" stroke-width="2.2"/>
<path class="l" d="M840 1012 L900 982"/>
</g>

<!-- 11_box56103A.svg -->
<g transform="translate(1300,1240) scale(0.11387)">
<path class="l" d="M560 775 L620 740 L1050 500 L1140 460 L1290 560 L1385 680 L1385 1000 L1365 1095 L900 1420 L850 1430 L600 1280 L575 1170 L560 1000 Z"/>
<path class="k" d="M1140 460 L1290 560 L1385 680 M620 740 L780 850 L870 950 M800 1340 L860 1420 M820 1380 L850 1350 M1160 1050 L1240 1085" stroke-width="3"/>
<path class="l" d="M780 850 L1040 700 L1060 500 M790 820 C880 780 1000 740 1050 640 M1085 500 L1085 760 C1090 830 1110 900 1100 960 L1130 1010 M1085 500 L1140 460"/>
<path class="l" d="M1215 600 L1210 850 C1240 900 1290 930 1300 1020 L1340 1030 L1355 680 Z M1360 1100 L1030 960 L850 1060 L850 1400 M850 1085 L1020 1000 L1210 1150 L920 1330 L860 1290 M1130 1010 L1365 1095 M900 1420 L900 1340"/>
<path class="l" d="M650 880 L660 1110 C700 1150 730 1200 740 1310 M650 880 L700 860 L820 940 L830 1060 C820 1150 830 1250 820 1330 M590 1010 L590 1050 M575 1000 L620 1020"/>
<path class="k" d="M950 1130 L1000 1110 L990 1150 M980 1200 L1010 1215" stroke-width="2.4"/>
<path class="l" d="M1480 560 L1465 640 M1460 680 L1440 740"/>
</g>

<!-- 12_bar50530.svg -->
<g transform="translate(260,1360) scale(0.17598)">
<path class="l" d="M80 260 L125 210 L180 240 L260 272 L360 320 L325 382 L230 340 L150 345 Z M125 210 L110 250 M95 275 L150 300 L240 290 L280 280 M300 292 L270 350"/>
<path class="k" d="M130 300 L200 320 L250 340 M150 300 C180 280 220 285 245 300 M140 320 L170 335" stroke-width="2.4"/>
<path class="l" d="M390 330 L560 420 L700 510 C720 530 730 545 740 560 L800 660 C820 690 860 700 900 720 L1100 850 L1180 872"/>
<path class="l" d="M325 385 L450 460 L580 540 C610 565 625 590 640 610 L730 730 C760 770 790 785 820 800 L1000 880 L1075 920"/>
<path class="l" d="M940 765 L1040 720 L1080 760 L1060 790 L1000 802 M1040 720 L1020 790 M980 745 L990 790"/>
<path class="k" d="M935 770 L975 750" stroke-width="2.6"/>
<path class="l" d="M820 872 L850 820 L920 850 L890 882 Z M850 820 L870 870"/>
<path class="l" d="M1075 990 C1060 950 1075 910 1130 872 C1170 845 1210 825 1240 835 L1262 857 C1230 870 1190 885 1150 900 C1115 925 1105 950 1110 985 L1075 990 M1095 930 C1110 900 1160 870 1230 850 M1150 900 C1140 930 1145 960 1160 970 C1190 960 1215 940 1220 920 L1200 905"/>
<path class="l" d="M1262 860 L1600 1020 L1660 1060 L1850 1210 L1770 1258 L1580 1100 L1215 945 M1590 1082 L1660 1060 M1620 1122 L1705 1085 M1740 1182 L1790 1160 M1850 1210 L1840 1225"/>
</g>

<!-- 13_towerR.svg -->
<g transform="translate(800,1260) scale(0.11387)">
<path class="l" d="M160 388 C165 320 250 250 430 192 C520 180 640 240 745 332"/>
<path class="l" d="M255 378 C270 300 380 250 470 250 C580 255 650 290 652 335 M255 378 C330 415 520 410 655 345"/>
<ellipse class="l" cx="440" cy="305" rx="115" ry="42"/>
<path class="l" d="M325 305 L327 352 C360 385 520 385 553 350 L555 305"/>
<path class="l" d="M165 395 L375 500 L745 338 M745 332 L700 500 L630 662 M540 470 L545 700"/>
<path class="l" d="M160 388 L150 470 C130 560 70 680 60 760 C65 830 90 920 130 1020"/>
<path class="k" d="M172 480 L100 600 L135 640 L75 760 M30 890 L70 930" stroke-width="2.2" stroke-dasharray="7 4"/>
<path class="l" d="M375 500 L330 700 L230 882 L272 892 L372 700 L396 502 M372 700 L460 672 L545 700 L630 662"/>
<path class="l" d="M0 1072 C60 1060 100 1040 130 1020 C190 985 240 940 280 900 L630 662 L900 560 L1285 452"/>
<path class="l" d="M745 352 L860 262 C900 240 960 245 980 268 L780 452 M880 432 L890 552"/>
<path class="l" d="M632 672 C680 740 760 790 830 760 C900 720 960 600 990 530 M745 620 C735 690 770 740 810 735 C850 715 875 650 880 590"/>
</g>

<!-- 14_center.svg -->
<g transform="translate(960,1020) scale(0.11387)">
<!-- A block -->
<path class="l" d="M300 350 C305 315 345 288 372 296 L600 402 C622 420 618 450 600 462 L560 490 L540 482 L318 392 C300 382 296 366 300 350 Z"/>
<path class="l" d="M545 40 L520 330"/>
<!-- B wing -->
<path class="l" d="M-20 420 L130 460 C160 540 220 600 290 622 C350 655 440 650 478 565 L490 500 M140 470 C200 480 270 540 300 602"/>
<path class="k" d="M398 560 l14 10" stroke-width="3.2"/>
<!-- C small plate -->
<path class="l" d="M545 495 L565 640 L615 657 L640 600 M590 470 L615 655"/>
<!-- D frame bracket -->
<path class="l" d="M625 400 L650 352 C680 320 705 305 722 310 L1010 450 C1045 480 1062 520 1065 560 L1055 900 M650 402 L700 372 L990 520 L1000 560 L990 900"/>
<path class="l" d="M625 400 L640 480 C645 560 650 620 660 660 C700 760 760 860 800 900 C850 950 910 985 960 1000 M700 410 L900 840 M760 425 L790 482 L900 560 L945 520 L995 552 M770 440 L935 800 L915 880"/>
<path class="k" d="M640 530 L655 570 M990 600 L1000 690" stroke-width="2.6"/>
<!-- E junction -->
<path class="l" d="M900 850 L960 790 L1000 900 M920 880 L940 1000 L985 1030 M1000 880 L1010 1050 M1060 880 L1060 1050 M960 1000 L1620 1390"/>
<path class="k" d="M1035 880 L1045 910 M1090 1095 L1135 1135" stroke-width="3.4"/>
<!-- F rod upper -->
<path class="l" d="M1290 0 L1078 540 L1062 700 M1390 0 L1100 850 L1082 1000"/>
<path class="l" d="M1400 0 L1445 150" stroke-width="1.3"/>
<!-- G bolt -->
<path class="l" d="M1415 290 C1420 180 1430 140 1442 132 C1455 140 1470 190 1485 290 M1425 200 L1460 200"/>
<ellipse class="l" cx="1450" cy="340" rx="92" ry="42"/>
<path class="l" d="M1358 340 L1365 410 C1390 455 1500 460 1535 410 L1542 340 M1365 385 C1400 425 1500 425 1538 385"/>
<path class="k" d="M1385 430 C1420 460 1490 460 1520 430" stroke-width="3.2"/>
<!-- H hook bracket -->
<path class="l" d="M1140 1000 L1200 830 C1240 790 1300 760 1332 762 L1342 822 L1242 1030 L1200 1042 L1160 1040 Z M1292 790 L1190 1010 M1242 1030 L1312 1030 M1290 790 L1330 800"/>
<!-- I vertical plate -->
<path class="l" d="M1470 730 C1480 705 1520 695 1562 700 L1640 740 L1650 880 L1562 1000 L1540 1170 L1500 1160 L1510 742 M1470 730 L1480 1300 M1430 880 L1440 1290"/>
<path class="l" d="M1440 880 L1372 1020 L1400 1082 L1440 1000"/>
<path class="k" d="M1565 795 l8 8 M1385 1010 L1400 1060" stroke-width="2.6"/>
<!-- J wing plate -->
<path class="l" d="M1570 1000 L1700 962 L1830 902 L1932 950 M1560 1170 L1680 1180 L1720 1240 L1830 1252 L1932 1182 M1590 1050 L1700 1130 L1932 1262"/>
<path class="k" d="M1890 1060 L1910 1120" stroke-width="3.4"/>
<!-- K tube + dashes -->
<path class="l" d="M900 1010 L810 1270 M960 1040 L870 1282 M810 1270 C830 1290 855 1292 870 1282 M895 1020 L950 1045"/>
<path class="k" d="M920 1140 L960 1120 M910 1170 L950 1150 M900 1200 L940 1180 M890 1230 L930 1210" stroke-width="1.6"/>
<path class="l" d="M630 1350 L880 1490 M850 1292 L880 1490 M630 1350 L620 1440"/>
<path class="d" d="M1130 1210 L1138 1360 M950 1530 L1010 1545" stroke-dasharray="10 5"/>
<!-- L flat bar -->
<path class="l" d="M1100 1366 L1470 1290 M1100 1402 L1560 1310 M1112 1442 L1600 1350 M1100 1366 L1112 1442 L1132 1600 M1095 1370 L1075 1540"/>
<!-- M bolt lower-left -->
<path class="l" d="M590 1560 C595 1480 610 1450 625 1446 C640 1452 655 1490 662 1560 M600 1500 L650 1500"/>
<ellipse class="l" cx="625" cy="1590" rx="86" ry="38"/>
<path class="l" d="M539 1590 L545 1650 C570 1695 680 1695 705 1650 L711 1590 M545 1630 C580 1665 670 1665 708 1630"/>
</g>

</svg>
</body></html>
